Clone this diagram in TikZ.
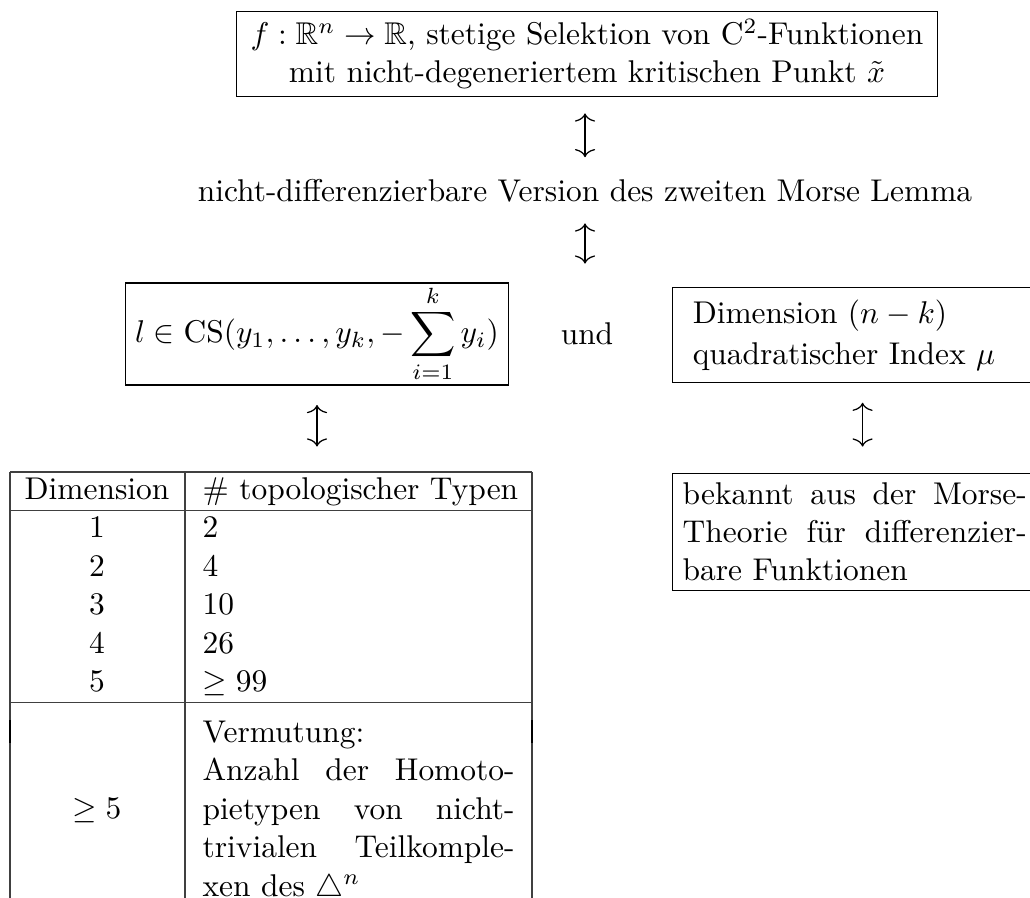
\documentclass[tikz,border=0pt]{standalone}
\usepackage{amsmath,amssymb}
\usetikzlibrary{positioning, arrows.meta}

\begin{document}
\begin{tikzpicture}[
    x=0.318pt, y=-0.318pt,
    >={To[length=2.6pt, width=6.4pt]},
    box/.style={draw, line width=0.4pt, inner sep=3pt},
    plain/.style={inner sep=0pt},
    updown/.style={<->, line width=0.4pt},
    cell/.style={inner sep=0pt, anchor=base},
    leftcell/.style={inner sep=0pt, anchor=base west},
    rule/.style={line width=0.4pt, draw=black!75},
    fatrule/.style={line width=0.8pt},
]

\useasboundingbox (0,0) rectangle (1030,898);
\clip (0,0) rectangle (1030,898);

% ============ NODES ============

% Ausgangslage
\node[box, align=center, inner xsep=4.5pt, inner ysep=2.5pt] (sel) at (587,54)
    {$f:\mathbb{R}^n\to\mathbb{R}$, stetige Selektion von C$^2$-Funktionen\\
     mit nicht-degeneriertem kritischen Punkt $\tilde{x}$};

\node[plain, anchor=base] (lemma) at (585,202) {nicht-differenzierbare Version des zweiten Morse Lemma};

% mittlere Zeile
\node[box, inner xsep=3pt, inner ysep=0.6pt] (cs) at (317,334)
    {$\displaystyle l\in\mathrm{CS}(y_1,\dots,y_k,-\sum_{i=1}^{k}y_i)$};
\node[plain, anchor=base] (und) at (587,345) {und};
\node[box, anchor=north west, text width=102pt, inner xsep=6.4pt, minimum height=30.2pt] (dim) at (672,287)
    {Dimension $(n-k)$\\[1pt] quadratischer Index $\mu$};

% Morse-Theorie (rechts unten)
\node[box, anchor=north west, text width=109.4pt, align=justify, inner xsep=3.2pt, minimum height=36.6pt] (morse) at (672,473)
    {bekannt aus der Morse-\linebreak Theorie f\"ur differenzier-\linebreak bare Funktionen};

% Tabelle: Kopf
\node[cell] (hdim) at (97,499) {Dimension};
\node[leftcell] (htyp) at (202,499) {\# topologischer Typen};

% Tabelle: Zeilen
\foreach \d/\n [count=\i] in {1/2, 2/4, 3/10, 4/26, 5/{$\geq 99$}} {
    \node[cell] (d\i) at (97, 499+38.5*\i) {\d};
    \node[leftcell] (n\i) at (202, 499+38.5*\i) {\n};
}

% Tabelle: Vermutung
\node[cell] (dbig) at (97,818) {$\geq 5$};
\node[plain, anchor=north west, text width=99.2pt, align=justify,
      font=\linespread{1.02}\selectfont] (conj) at (202,720)
    {Vermutung:\newline Anzahl der Homoto-\linebreak pietypen von nicht-\linebreak
     trivialen Teilkomple-\linebreak xen des $\triangle^n$};

% Tabelle: Linien
\coordinate (tl) at (10,472);
\coordinate (tm) at (185,472);
\coordinate (tr) at (532,472);
\draw[rule] (tl) -- (tr);
\draw[rule] (tl) -- ++(0,450);
\draw[rule] (tm) -- ++(0,450);
\draw[rule] (tr) -- ++(0,450);
\draw[rule] ([yshift=-3.6pt]tl |- hdim.base) -- ([yshift=-3.6pt]tr |- hdim.base);
\draw[rule] ([yshift=-3.6pt]tl |- n5.base) -- ([yshift=-3.6pt]tr |- n5.base);
\draw[fatrule] (tl |- conj.north) -- ++(0,23);
\draw[fatrule] (tr |- conj.north) -- ++(0,23);

% ============ ARROWS ============

\draw[updown, shorten <=5.1pt, shorten >=7pt] (lemma.north |- sel.south) -- (lemma.north);
\draw[updown, shorten <=6.4pt, shorten >=6pt] (lemma.south) -- (lemma.south |- cs.north);
\draw[updown, shorten <=6.2pt, shorten >=8.1pt] (cs.south) -- (cs.south |- tm);
\draw[updown, shorten <=6.2pt, shorten >=8.4pt] ([xshift=3pt]dim.south) -- ([xshift=3pt]dim.south |- morse.north);

\end{tikzpicture}
\end{document}
